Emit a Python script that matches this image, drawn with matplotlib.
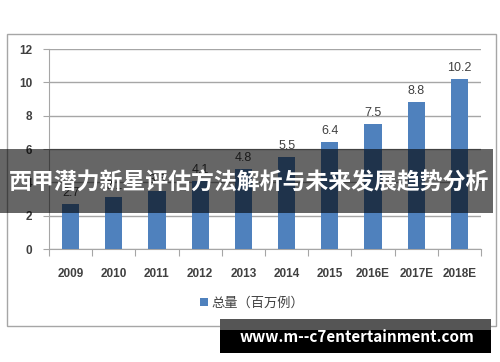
import matplotlib
matplotlib.use('Agg')
import matplotlib.pyplot as plt
import matplotlib.patches as mpatch
import numpy as np

plt.rcParams['font.family'] = ['Noto Sans CJK SC', 'DejaVu Sans']

years = ['2009', '2010', '2011', '2012', '2013', '2014', '2015', '2016E', '2017E', '2018E']
totals = [2.7, 3.1, 3.5, 4.1, 4.8, 5.5, 6.4, 7.5, 8.8, 10.2]
legend_label = '总量（百万例）'
banner_text = '西甲潜力新星评估方法解析与未来发展趋势分析'
watermark = 'www.m--c7entertainment.com'

W, H = 500, 362
fig = plt.figure(figsize=(W/100, H/100), dpi=100)

# outer chart frame
fig.patches.append(mpatch.Rectangle((7/W, 1-326/H), 489/W, 292/H, transform=fig.transFigure,
                                    facecolor='white', edgecolor='#a6a6a6', lw=1, zorder=-1))

ax = fig.add_axes([49/W, 1-249/H, 432/W, 200/H])
ax.set_zorder(1)
ax.patch.set_visible(False)
x = np.arange(len(years))
bars = ax.bar(x, totals, width=0.4, color='#4f81bd', zorder=3, label=legend_label)
for xi, v in zip(x, totals):
    ax.text(xi, v + 0.3, ('%g' % v), ha='center', va='bottom', fontsize=9,
            color='#404040', family=['Liberation Sans', 'DejaVu Sans'])

ax.set_xlim(-0.5, len(years) - 0.5)
ax.set_ylim(0, 12)
ax.set_yticks(range(0, 13, 2))
ax.yaxis.grid(True, color='#a6a6a6', lw=1)
ax.set_axisbelow(True)
for s in ['top', 'right']:
    ax.spines[s].set_visible(False)
ax.spines['left'].set_color('#a6a6a6')
ax.spines['bottom'].set_color('#a6a6a6')
ax.set_xticks(np.arange(-0.5, len(years), 1))
ax.set_xticklabels([])
ax.set_xticks(x, minor=True)
ax.set_xticklabels(years, minor=True)
ax.tick_params(axis='x', which='major', length=5, color='#a6a6a6')
ax.tick_params(axis='x', which='minor', length=0, pad=14, labelsize=8.5, labelcolor='#404040')
ax.tick_params(axis='y', length=4, color='#a6a6a6', labelsize=8.5, labelcolor='#404040', pad=8)
for lab in ax.get_xticklabels(minor=True) + ax.get_yticklabels():
    lab.set_family(['Liberation Sans', 'DejaVu Sans'])
    lab.set_fontweight('bold')

fig.legend(handles=[bars], labels=[legend_label], loc='center', bbox_to_anchor=(252/W, 1-303/H),
           frameon=False, fontsize=9.5, handlelength=0.6, handleheight=0.6, handletextpad=0.3,
           labelcolor='#404040')

# title banner across the middle
fig.patches.append(mpatch.Rectangle((0, 1-213/H), 493/W, 64/H, transform=fig.transFigure,
                                    facecolor='black', alpha=0.6, edgecolor='none', zorder=10))
fig.text(249/W, 1-183/H, banner_text, ha='center', va='center', color='white',
         fontsize=16.5, fontweight='bold', zorder=11)

# watermark box
fig.patches.append(mpatch.Rectangle((220/W, 1-330/H), 271/W, 11/H, transform=fig.transFigure,
                                    facecolor='#555555', edgecolor='none', zorder=10))
fig.patches.append(mpatch.Rectangle((220/W, 1-353/H), 271/W, 23/H, transform=fig.transFigure,
                                    facecolor='black', edgecolor='none', zorder=10))
fig.text(357/W, 1-337/H, watermark, ha='center', va='center', color='white',
         fontsize=11, fontweight='bold', zorder=11)

fig.savefig('out.png', dpi=100)
